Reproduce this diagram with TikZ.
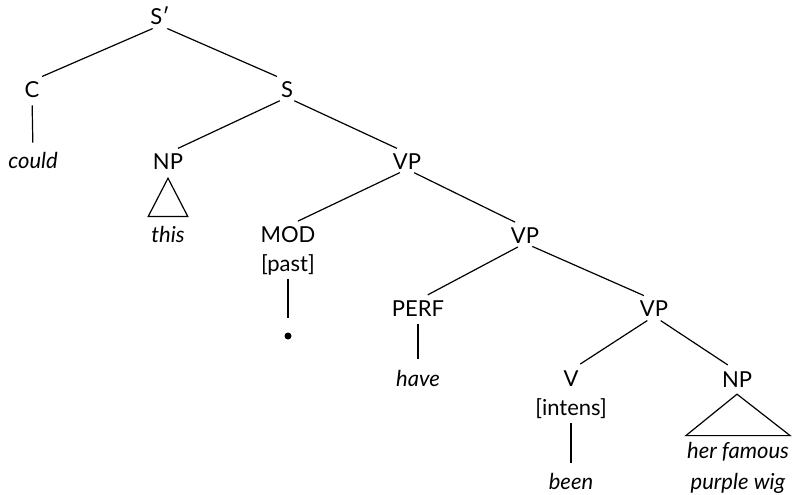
\documentclass[tikz,border=0pt]{standalone}
\usepackage{fontspec}
\setmainfont{Lato}
\usetikzlibrary{calc}
\begin{document}
\begin{tikzpicture}[x=1pt,y=-1pt,
    cat/.style={inner sep=0pt,anchor=base,font=\fontsize{22}{29}\selectfont},
    cattwo/.style={cat,align=center},
    word/.style={cat,font=\fontsize{22}{31}\selectfont\itshape},
    branch/.style={line width=1.2pt,shorten <=8pt,shorten >=11pt},
    stem/.style={line width=1.2pt,shorten <=8pt,shorten >=9pt},
    roof/.style={line width=1.2pt,line join=miter}
]
\useasboundingbox (0,0) rectangle (801,495);

% categories
\node[cat] (sbar) at (160,25) {S\char"2032};
\node[cat] (c) at (32,97) {C};
\node[cat] (s) at (287,97) {S};
\node[cat] (np1) at (168,169) {NP};
\node[cat] (vp1) at (407,169) {VP};
\node[cattwo] (mod) at (288,271) {MOD\\{[past]}};
\node[cat] (vp2) at (525,243) {VP};
\node[cat] (perf) at (418,316) {PERF};
\node[cat] (vp3) at (654,316) {VP};
\node[cattwo] (v) at (571,415) {V\\{[intens]}};
\node[cat] (np2) at (737,387) {NP};

% words
\node[word] (could) at (33,168) {could};
\node[word] (this) at (168,242) {this};
\node[circle,fill,inner sep=0pt,minimum size=7pt] (dot) at (288,336) {};
\node[word] (have) at (418,386) {have};
\node[word] (been) at (571,489) {been};
\node[word,align=center] (wig) at (738,489) {her famous\\purple wig};

% branches
\draw[branch] (sbar.south) -- (c.north);
\draw[branch] (sbar.south) -- (s.north);
\draw[branch] (s.south) -- (np1.north);
\draw[branch] (s.south) -- (vp1.north);
\draw[branch] (vp1.south) -- (mod.north);
\draw[branch] (vp1.south) -- (vp2.north);
\draw[branch] (vp2.south) -- (perf.north);
\draw[branch] (vp2.south) -- (vp3.north);
\draw[branch] (vp3.south) -- (v.north);
\draw[branch] (vp3.south) -- (np2.north);

% stems
\draw[stem] (c.south) -- (could.north);
\draw[stem,shorten <=4pt,shorten >=14pt] (mod.south) -- (dot.north);
\draw[stem,shorten >=11pt] (perf.south) -- (have.north);
\draw[stem,shorten <=5pt,shorten >=10pt] (v.south) -- (been.north);

% roofs
\draw[roof] ([yshift=-9pt]np1.south) -- ([xshift=3pt,yshift=9pt]this.north east)
    -- ([xshift=-3pt,yshift=9pt]this.north west) -- cycle;
\draw[roof] ([yshift=-7pt]np2.south) -- ([xshift=1pt,yshift=6pt]wig.north east)
    -- ([xshift=-1pt,yshift=6pt]wig.north west) -- cycle;
\end{tikzpicture}
\end{document}
